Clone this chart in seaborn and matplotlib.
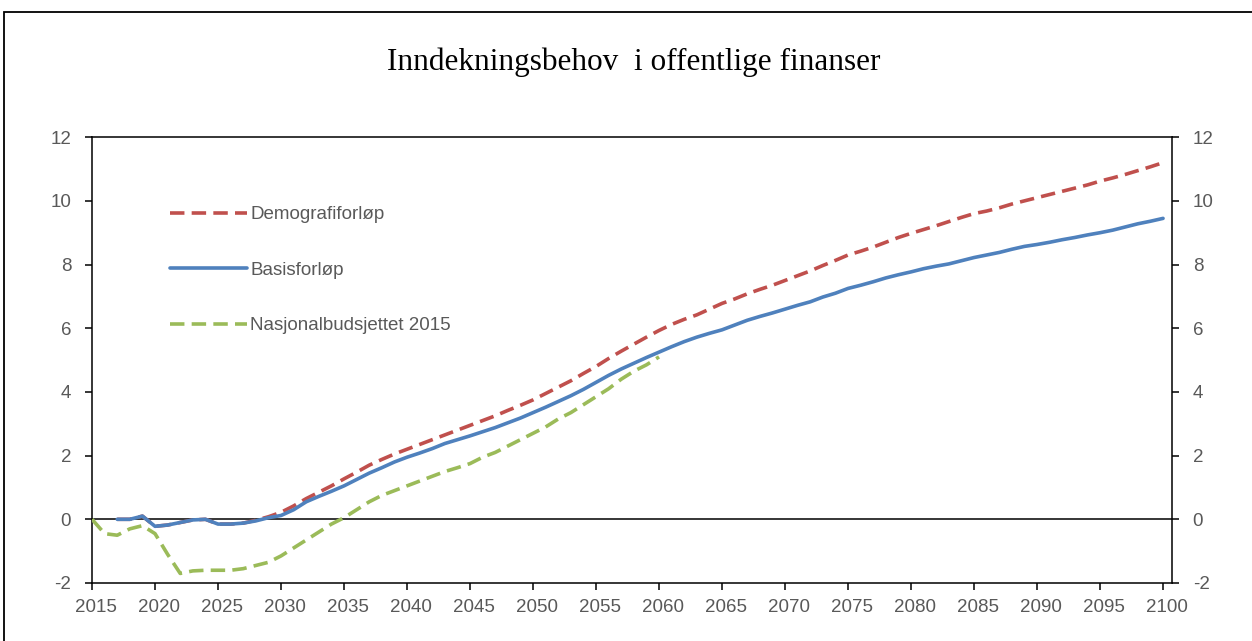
import numpy as np
import pandas as pd
import matplotlib
matplotlib.use("Agg")
import matplotlib.pyplot as plt
import seaborn as sns
from matplotlib.lines import Line2D
from matplotlib.transforms import ScaledTranslation

# Inndekningsbehov (prosent av BNP) per år
years_basis = list(range(2017, 2101))
basis = [
    0.0, 0.0, 0.1, -0.22, -0.18, -0.1, -0.02, 0.0, -0.15, -0.15,          # 2017-2026
    -0.12, -0.05, 0.05, 0.12, 0.3, 0.55, 0.72, 0.88, 1.05, 1.25,           # 2027-2036
    1.45, 1.62, 1.8, 1.95, 2.08, 2.22, 2.38, 2.5, 2.62, 2.75,              # 2037-2046
    2.88, 3.03, 3.18, 3.35, 3.52, 3.7, 3.88, 4.08, 4.3, 4.52,              # 2047-2056
    4.72, 4.9, 5.08, 5.25, 5.42, 5.58, 5.72, 5.84, 5.95, 6.1,              # 2057-2066
    6.25, 6.37, 6.48, 6.6, 6.72, 6.83, 6.98, 7.1, 7.25, 7.35,              # 2067-2076
    7.46, 7.58, 7.68, 7.77, 7.87, 7.95, 8.02, 8.12, 8.22, 8.3,             # 2077-2086
    8.38, 8.48, 8.57, 8.63, 8.7, 8.78, 8.85, 8.93, 9.0, 9.08,              # 2087-2096
    9.18, 9.28, 9.36, 9.45,                                                # 2097-2100
]

years_demo = list(range(2017, 2101))
demografi = [
    0.0, 0.0, 0.1, -0.22, -0.18, -0.1, -0.02, 0.0, -0.15, -0.15,          # 2017-2026
    -0.12, -0.03, 0.08, 0.22, 0.42, 0.65, 0.85, 1.05, 1.27, 1.48,          # 2027-2036
    1.7, 1.88, 2.05, 2.2, 2.35, 2.5, 2.65, 2.8, 2.95, 3.1,                 # 2037-2046
    3.25, 3.42, 3.58, 3.75, 3.95, 4.15, 4.35, 4.58, 4.8, 5.05,             # 2047-2056
    5.28, 5.5, 5.72, 5.93, 6.12, 6.28, 6.42, 6.6, 6.78, 6.92,              # 2057-2066
    7.08, 7.22, 7.35, 7.5, 7.65, 7.8, 7.97, 8.13, 8.3, 8.42,               # 2067-2076
    8.55, 8.7, 8.85, 8.98, 9.1, 9.22, 9.35, 9.48, 9.6, 9.68,               # 2077-2086
    9.78, 9.9, 10.0, 10.1, 10.2, 10.3, 10.4, 10.5, 10.62, 10.72,           # 2087-2096
    10.83, 10.95, 11.07, 11.2,                                             # 2097-2100
]

years_nb = list(range(2015, 2061))
nasjonalbudsjettet = [
    0.0, -0.45, -0.5, -0.3, -0.2, -0.45, -1.1, -1.7, -1.62, -1.6,         # 2015-2024
    -1.6, -1.6, -1.55, -1.45, -1.35, -1.15, -0.9, -0.65, -0.4, -0.15,      # 2025-2034
    0.05, 0.3, 0.55, 0.75, 0.9, 1.05, 1.2, 1.35, 1.5, 1.62,                # 2035-2044
    1.75, 1.95, 2.1, 2.3, 2.5, 2.7, 2.9, 3.15, 3.35, 3.6,                  # 2045-2054
    3.85, 4.1, 4.4, 4.65, 4.85, 5.1,                                       # 2055-2060
]

labels = ["Demografiforløp", "Basisforløp", "Nasjonalbudsjettet 2015"]
colors = ["#C0504D", "#4F81BD", "#9BBB59"]
x_ticks = list(range(2015, 2101, 5))
y_ticks = list(range(-2, 13, 2))
title = "Inndekningsbehov  i offentlige finanser"

sns.set_theme(style="white")
plt.rcParams["font.family"] = ["Liberation Sans", "DejaVu Sans"]
plt.rcParams["axes.unicode_minus"] = False

fig = plt.figure(figsize=(12.52, 6.41), dpi=100)
ax = fig.add_axes([0.0735, 0.0905, 0.8625, 0.6955])

df_demo = pd.DataFrame({"år": years_demo, "verdi": demografi})
df_basis = pd.DataFrame({"år": years_basis, "verdi": basis})
df_nb = pd.DataFrame({"år": years_nb, "verdi": nasjonalbudsjettet})

lw = 2.6
ax.axhline(0, color="black", lw=1.1, zorder=1)
sns.lineplot(data=df_nb, x="år", y="verdi", ax=ax, color=colors[2], lw=lw,
             linestyle=(0, (4, 2)), zorder=3)
sns.lineplot(data=df_demo, x="år", y="verdi", ax=ax, color=colors[0], lw=lw,
             linestyle=(0, (4, 2)), zorder=3)
sns.lineplot(data=df_basis, x="år", y="verdi", ax=ax, color=colors[1], lw=lw,
             zorder=4)

ax.set_xlim(2015, 2100.7)
ax.set_ylim(-2, 12)
ax.set_xticks(x_ticks)
ax.set_yticks(y_ticks)
ax.set_xlabel("")
ax.set_ylabel("")
ax.grid(False)

for s in ax.spines.values():
    s.set_color("black")
    s.set_linewidth(1.1)
    s.set_visible(True)

tick_col = "#595959"
fs = 13.5
ax.tick_params(axis="x", direction="out", length=5, width=1.1, color="black",
               labelsize=fs, labelcolor=tick_col, pad=6.5, top=False, bottom=True)
ax.tick_params(axis="y", direction="out", length=5, width=1.1, color="black",
               labelsize=fs, labelcolor=tick_col, left=True, right=True,
               labelleft=True, labelright=True, pad=10)

# year labels sit a few pixels right of their ticks
shift = ScaledTranslation(4 / 100, 0, fig.dpi_scale_trans)
for lbl in ax.get_xticklabels():
    lbl.set_transform(lbl.get_transform() + shift)

handles = [
    Line2D([], [], color=colors[0], lw=lw, linestyle=(0, (4, 2))),
    Line2D([], [], color=colors[1], lw=lw),
    Line2D([], [], color=colors[2], lw=lw, linestyle=(0, (4, 2))),
]
leg = ax.legend(handles, labels, loc="upper left", bbox_to_anchor=(0.065, 0.862),
                frameon=False, fontsize=fs, handlelength=4.1, handletextpad=0.2,
                labelspacing=2.05, borderaxespad=0)
for t in leg.get_texts():
    t.set_color(tick_col)

fig.text(0.506, 0.903, title, ha="center", va="center", fontsize=22.5,
         family=["Liberation Serif", "DejaVu Serif"], color="black")

# Ytre ramme rundt figuren
frame = plt.Rectangle((4 / 1252, -0.05), 1.2, 1 - 12 / 641 + 0.05,
                      transform=fig.transFigure, fill=False, edgecolor="black",
                      lw=1.3, clip_on=False)
fig.add_artist(frame)

fig.savefig("out.png", dpi=100)
